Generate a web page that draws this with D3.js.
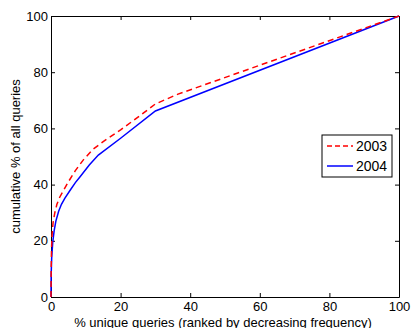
<!DOCTYPE html>
<html lang="en">
<head>
    <meta charset="UTF-8">
    <title>cumulative queries</title>
    <script src="https://d3js.org/d3.v7.min.js"></script>
    <style>
        body { margin: 0; background: #fff; }
        text { font-family: "Liberation Sans", Arial, sans-serif; fill: #000; }
    </style>
</head>
<body>
    <svg width="411" height="328"></svg>
    <script>
        // values
        const x2003 = [0, 0.05, 0.15, 0.3, 0.6, 1.1, 1.7, 2.5, 3.4, 5, 7, 9.3, 12, 15, 20, 25, 30, 36.5, 100];
        const y2003 = [0, 10, 17, 22, 26.5, 30, 33, 35.5, 37.5, 41, 45, 48.8, 52.5, 55.3, 59.5, 64, 68.7, 72.2, 100];
        const x2004 = [0, 0.05, 0.2, 0.5, 0.9, 1.4, 2.2, 3, 4, 5.5, 7, 8.3, 11, 13.6, 20, 30, 100];
        const y2004 = [0, 8, 14, 19.5, 23.5, 27, 30.5, 33, 35.2, 38, 40.7, 42.7, 47, 50.5, 56.5, 66.2, 100];
        const xTicks = [0, 20, 40, 60, 80, 100];
        const yTicks = [0, 20, 40, 60, 80, 100];
        const labels = ['2003', '2004'];

        const svg = d3.select('svg');
        const mLeft = 51, mRight = 399, mTop = 16, mBottom = 297;

        const x = d3.scaleLinear().domain([0, 100]).range([mLeft, mRight]);
        const y = d3.scaleLinear().domain([0, 100]).range([mBottom, mTop]);

        // matlab style box with inward ticks
        svg.append('g')
            .attr('transform', `translate(0,${mBottom})`)
            .call(d3.axisBottom(x).tickValues(xTicks).tickSizeInner(-4).tickSizeOuter(0).tickPadding(5))
            .call(g => g.selectAll('text').attr('font-size', 13));
        svg.append('g')
            .attr('transform', `translate(${mLeft},0)`)
            .call(d3.axisLeft(y).tickValues(yTicks).tickSizeInner(-4).tickSizeOuter(0).tickPadding(3))
            .call(g => g.selectAll('text').attr('font-size', 13));
        svg.append('g')
            .attr('transform', `translate(0,${mTop})`)
            .call(d3.axisTop(x).tickValues(xTicks).tickSizeInner(-4).tickSizeOuter(0).tickFormat(''));
        svg.append('g')
            .attr('transform', `translate(${mRight},0)`)
            .call(d3.axisRight(y).tickValues(yTicks).tickSizeInner(-4).tickSizeOuter(0).tickFormat(''));
        svg.selectAll('.domain, .tick line').attr('stroke', '#000');

        const line = d3.line().x(d => x(d[0])).y(d => y(d[1]));

        svg.append('path')
            .datum(x2004.map((v, i) => [v, y2004[i]]))
            .attr('d', line)
            .attr('fill', 'none')
            .attr('stroke', '#0000ff')
            .attr('stroke-width', 1.5);

        svg.append('path')
            .datum(x2003.map((v, i) => [v, y2003[i]]))
            .attr('d', line)
            .attr('fill', 'none')
            .attr('stroke', '#ff0000')
            .attr('stroke-width', 1.5)
            .attr('stroke-dasharray', '6,4');

        // axis titles
        svg.append('text')
            .attr('x', (mLeft + mRight) / 2 - 2)
            .attr('y', 327)
            .attr('text-anchor', 'middle')
            .attr('font-size', 13)
            .text('% unique queries (ranked by decreasing frequency)');
        svg.append('text')
            .attr('transform', `translate(20,${(mTop + mBottom) / 2}) rotate(-90)`)
            .attr('text-anchor', 'middle')
            .attr('font-size', 13)
            .text('cumulative % of all queries');

        // legend
        const lg = svg.append('g').attr('transform', 'translate(322,135)');
        lg.append('rect').attr('width', 70).attr('height', 42)
            .attr('fill', '#fff').attr('stroke', '#000');
        labels.forEach((t, i) => {
            const ly = 11 + i * 20;
            lg.append('line').attr('x1', 5).attr('x2', 31).attr('y1', ly).attr('y2', ly)
                .attr('stroke', i === 0 ? '#ff0000' : '#0000ff')
                .attr('stroke-width', 1.5)
                .attr('stroke-dasharray', i === 0 ? '5,3' : null);
            lg.append('text').attr('x', 34).attr('y', ly + 5)
                .attr('font-size', 14).text(t);
        });
    </script>
</body>
</html>
